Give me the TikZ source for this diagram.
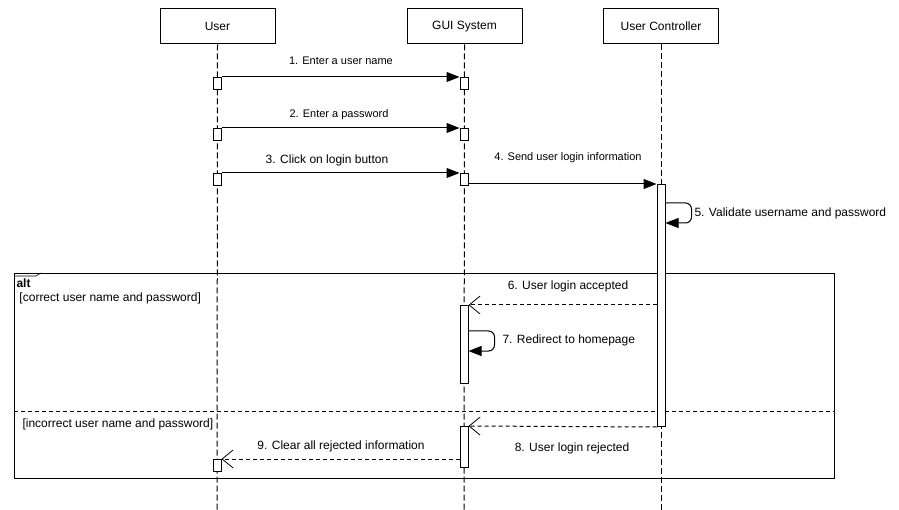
\documentclass[tikz,border=0pt]{standalone}
\usepackage{fontspec}
\setmainfont{Liberation Sans}
\usetikzlibrary{arrows.meta}
\begin{document}
\begin{tikzpicture}[x=1pt,y=-1pt,line width=1pt,
  head/.style={draw,minimum width=115pt,minimum height=35pt,inner sep=0pt,font=\fontsize{12}{14}\selectfont},
  life/.style={dash pattern=on 6pt off 3pt},
  act/.style={draw,fill=white,minimum width=8pt,inner sep=0pt,anchor=north},
  msg/.style={-{Triangle[length=13pt,width=10pt]}},
  ret/.style={dash pattern=on 4pt off 3pt,-{Straight Barb[length=11pt,width=18pt,line width=0.8pt]}},
  lbl/.style={inner sep=0pt,font=\fontsize{12}{14}\selectfont},
  small/.style={inner sep=0pt,font=\fontsize{11}{13}\selectfont},
  frame/.style={draw}]
\useasboundingbox (0,0) rectangle (899,510);
% heads
\node[head] (hu) at (217.5,26.5) {User};
\node[head] (hg) at (464.5,26.5) {GUI System};
\node[head] (hc) at (661,26.5) {User Controller};
\coordinate (eu) at (217,510);
\coordinate (eg) at (464,510);
\coordinate (ec) at (661,510);
\draw[life] (hu.south) -- (eu);
\draw[life] (hg.south) -- (eg);
\draw[life] (hc.south) -- (ec);
% alt frame
\draw[frame] (14,274) rectangle (834,478);
\draw[line width=0.6pt] (14,276) -- (36,276) -- (41,273);
\draw[dash pattern=on 4pt off 3pt] (14,411) -- (834,411);
\node[lbl,anchor=west,font=\fontsize{12}{14}\selectfont\bfseries] (alt) at (16,283) {alt};
\node[lbl,anchor=west] (g1) at (19,298.5) {[correct user name and password]};
\node[lbl,anchor=west] (g2) at (22,424.5) {[incorrect user name and password]};
% activations
\node[act,minimum height=12pt] (a1u) at (217,77) {};
\node[act,minimum height=12pt] (a1g) at (464,77) {};
\node[act,minimum height=12pt] (a2u) at (217,128) {};
\node[act,minimum height=12pt] (a2g) at (464,128) {};
\node[act,minimum height=12pt] (a3u) at (217,173) {};
\node[act,minimum height=12pt] (a3g) at (464,173) {};
\node[act,minimum height=242pt] (ac) at (661,184) {};
\node[act,minimum height=78pt] (a6g) at (464,305) {};
\node[act,minimum height=41pt] (a8g) at (464,426) {};
\node[act,minimum height=12pt] (a9u) at (217,459) {};
% messages
\draw[msg] (a1u.north east) -- (a1g.north west);
\node[small] (m1) at (341,61) {1. Enter a user name};
\draw[msg] (a2u.north east) -- (a2g.north west);
\node[small] (m2) at (339,115) {2. Enter a password};
\draw[msg] (a3u.north east) -- (a3g.north west);
\node[lbl] (m3) at (327,160.5) {3. Click on login button};
\draw[msg] (a3g.east |- ac.north) -- (ac.north west);
\node[small] (m4) at (568,158) {4. Send user login information};
\draw[msg,rounded corners=6pt] ([yshift=-19pt]ac.north east) -- ++(26,0) -- ++(0,20) -- ++(-26,0);
\node[lbl,anchor=west] (m5) at (694,213.5) {5. Validate username and password};
\draw[ret] (ac.west |- a6g.north) -- (a6g.north east);
\node[lbl] (m6) at (568,286.5) {6. User login accepted};
\draw[msg,rounded corners=6pt] ([yshift=-26pt]a6g.north east) -- ++(26,0) -- ++(0,20) -- ++(-26,0);
\node[lbl,anchor=west] (m7) at (502,340.5) {7. Redirect to homepage};
\draw[ret] (ac.south west) -- (a8g.north east);
\node[lbl] (m8) at (572,448.5) {8. User login rejected};
\draw[ret] (a8g.west |- a9u.north) -- (a9u.north east);
\node[lbl] (m9) at (341,446.5) {9. Clear all rejected information};
\end{tikzpicture}
\end{document}
